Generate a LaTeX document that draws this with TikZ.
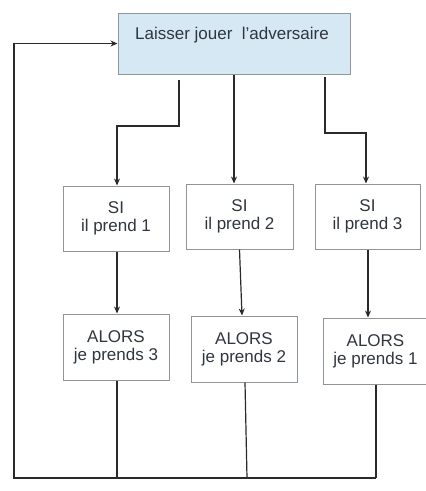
\documentclass[tikz,border=0pt]{standalone}
\usepackage{fontspec}
\setmainfont{Liberation Sans}
\usetikzlibrary{arrows.meta}
\definecolor{boxfill}{HTML}{D6E8F3}
\definecolor{boxline}{HTML}{8E969C}
\definecolor{txt}{HTML}{30363F}
\definecolor{wire}{HTML}{2A2A2A}
\tikzset{
  stepbox/.style={draw=boxline, line width=1pt, fill=white, inner sep=0pt},
  topbox/.style={draw=boxline, line width=1pt, fill=boxfill, inner sep=0pt},
  lbl/.style={text=txt, align=center, font=\fontsize{17}{18}\selectfont, inner sep=0pt},
  wire/.style={draw=wire, line width=1.2pt},
  arr/.style={wire, -{Stealth[length=7pt, width=6pt]}},
}
\begin{document}
\begin{tikzpicture}[x=1pt, y=-1pt]
\useasboundingbox[fill=white] (0,0) rectangle (426,491);
% top box
\node[topbox, minimum width=232pt, minimum height=61pt] (top) at (234,43.5) {};
\node[lbl] (toptext) at (232,35) {Laisser jouer\ \ l'adversaire};
% SI boxes
\node[stepbox, lbl, minimum width=106pt, minimum height=65pt] (si1) at (116,218.5) {SI\\il prend 1};
\node[stepbox, lbl, minimum width=107pt, minimum height=65pt] (si2) at (239.5,216.5) {SI\\il prend 2};
\node[stepbox, lbl, minimum width=105pt, minimum height=65pt] (si3) at (367.5,216.5) {SI\\il prend 3};
% ALORS boxes
\node[stepbox, lbl, minimum width=106pt, minimum height=66pt] (al1) at (116,347) {ALORS\\je prends 3};
\node[stepbox, lbl, minimum width=106pt, minimum height=66pt] (al2) at (244,349) {ALORS\\je prends 2};
\node[stepbox, minimum width=130pt, minimum height=66pt] (al3box) at (388,351) {};
\node[lbl] (al3) at (375.5,351) {ALORS\\je prends 1};
% coordinates
\coordinate (s1) at (179,80);
\coordinate (s3) at (325,77);
\coordinate (b1) at (117,478);
\coordinate (b2) at (247,478);
\coordinate (b3) at (376,478);
\coordinate (bl) at (14,478);
% top to SI
\draw[arr] (s1) |- (117,126) -- (si1.north -| 117,0);
\draw[arr] (top.south -| 234,0) -- (si2.north -| 234,0);
\draw[arr] (s3) |- (366,133) -- (si3.north -| 366,0);
% SI to ALORS
\draw[arr] (si1.south -| 117,0) -- (al1.north -| 117,0);
\draw[arr] (si2.south -| 239.5,0) -- (al2.north -| 242,0);
\draw[arr] (si3.south -| 368,0) -- (al3box.north -| 368,0);
% ALORS to loop
\draw[wire] (al1.south -| 117,0) -- (b1);
\draw[wire] (al2.south -| 245,0) -- (b2);
\draw[wire] (al3box.south -| 376,0) -- (b3);
\draw[arr] (b3) -- (bl) |- (top.west);
\end{tikzpicture}
\end{document}
